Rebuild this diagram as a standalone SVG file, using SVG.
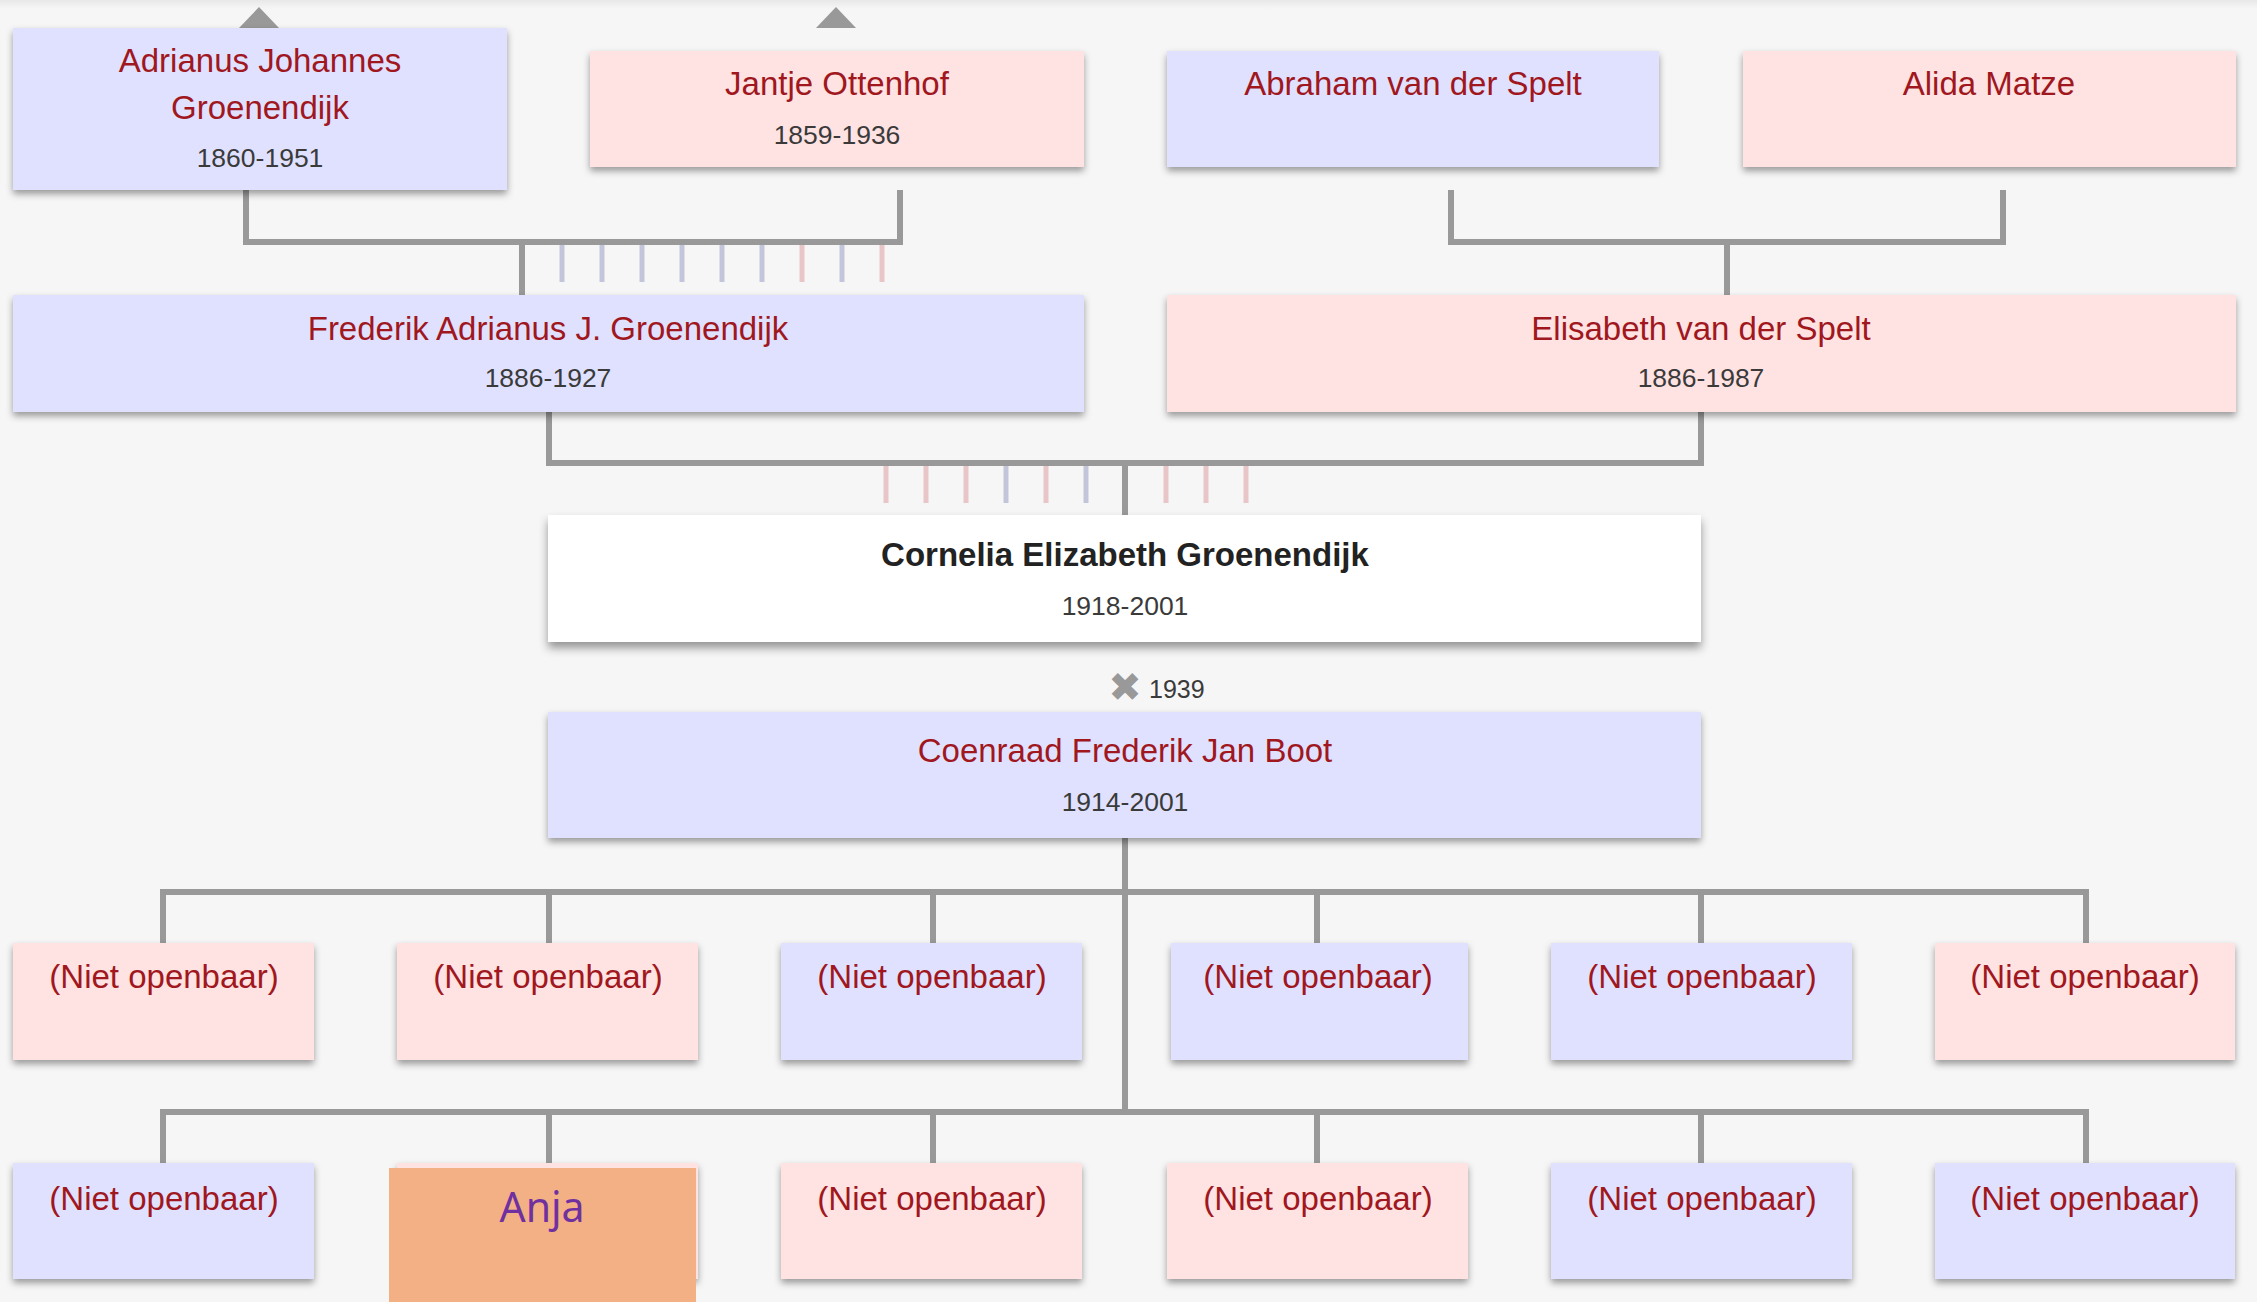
<svg xmlns="http://www.w3.org/2000/svg" width="2257" height="1302" viewBox="0 0 2257 1302">
<defs>
<style>
.name{font-family:"Liberation Sans",Arial,sans-serif;font-size:33px;fill:#a0171e;text-anchor:middle}
.date{font-family:"Liberation Sans",Arial,sans-serif;font-size:26.5px;fill:#3a3a3a;text-anchor:middle}
.root{font-family:"Liberation Sans",Arial,sans-serif;font-size:33px;font-weight:bold;fill:#222;text-anchor:middle}
.blue{fill:#dfe1fe}
.pink{fill:#ffe2e2}
.white{fill:#ffffff}
.conn{stroke:#999;stroke-width:6;fill:none;stroke-linejoin:miter}
.tb{stroke:#c3c6da;stroke-width:5}
.tp{stroke:#e8c6c8;stroke-width:5}
</style>
<filter id="sh" x="-5%" y="-20%" width="110%" height="150%">
<feDropShadow dx="0" dy="4" stdDeviation="3.5" flood-color="#000" flood-opacity="0.38"/>
</filter>
<filter id="sh2" x="-5%" y="-20%" width="110%" height="150%">
<feDropShadow dx="0" dy="6" stdDeviation="5" flood-color="#000" flood-opacity="0.4"/>
</filter>
<linearGradient id="top" x1="0" y1="0" x2="0" y2="1">
<stop offset="0" stop-color="#e8e8e8"/>
<stop offset="1" stop-color="#f6f6f6"/>
</linearGradient>
</defs>
<rect x="0" y="0" width="2257" height="1302" fill="#f6f6f6"/>
<rect x="0" y="0" width="2257" height="9" fill="url(#top)"/>

<g id="connectors">
<polygon points="239,28 259,7 279,28" fill="#999"/>
<polygon points="816,28 836,7 856,28" fill="#999"/>
<polyline class="conn" points="246,190 246,242 900,242 900,190"/>
<line class="conn" x1="522" y1="242" x2="522" y2="295"/>
<polyline class="conn" points="1451,190 1451,242 2003,242 2003,190"/>
<line class="conn" x1="1727" y1="242" x2="1727" y2="295"/>
<polyline class="conn" points="549,412 549,463 1701,463 1701,412"/>
<line class="conn" x1="1125" y1="463" x2="1125" y2="515"/>
<line class="conn" x1="1125" y1="838" x2="1125" y2="1112"/>
<polyline class="conn" points="163,943 163,892 2086,892 2086,943"/>
<line class="conn" x1="549" y1="892" x2="549" y2="943"/>
<line class="conn" x1="933" y1="892" x2="933" y2="943"/>
<line class="conn" x1="1317" y1="892" x2="1317" y2="943"/>
<line class="conn" x1="1701" y1="892" x2="1701" y2="943"/>
<polyline class="conn" points="163,1163 163,1112 2086,1112 2086,1163"/>
<line class="conn" x1="549" y1="1112" x2="549" y2="1163"/>
<line class="conn" x1="933" y1="1112" x2="933" y2="1163"/>
<line class="conn" x1="1317" y1="1112" x2="1317" y2="1163"/>
<line class="conn" x1="1701" y1="1112" x2="1701" y2="1163"/>
<g>
<line class="tb" x1="562" y1="245" x2="562" y2="282"/>
<line class="tb" x1="602" y1="245" x2="602" y2="282"/>
<line class="tb" x1="642" y1="245" x2="642" y2="282"/>
<line class="tb" x1="682" y1="245" x2="682" y2="282"/>
<line class="tb" x1="722" y1="245" x2="722" y2="282"/>
<line class="tb" x1="762" y1="245" x2="762" y2="282"/>
<line class="tp" x1="802" y1="245" x2="802" y2="282"/>
<line class="tb" x1="842" y1="245" x2="842" y2="282"/>
<line class="tp" x1="882" y1="245" x2="882" y2="282"/>
<line class="tp" x1="886" y1="466" x2="886" y2="503"/>
<line class="tp" x1="926" y1="466" x2="926" y2="503"/>
<line class="tp" x1="966" y1="466" x2="966" y2="503"/>
<line class="tb" x1="1006" y1="466" x2="1006" y2="503"/>
<line class="tp" x1="1046" y1="466" x2="1046" y2="503"/>
<line class="tb" x1="1086" y1="466" x2="1086" y2="503"/>
<line class="tp" x1="1166" y1="466" x2="1166" y2="503"/>
<line class="tp" x1="1206" y1="466" x2="1206" y2="503"/>
<line class="tp" x1="1246" y1="466" x2="1246" y2="503"/>
</g>
</g>

<g id="adrianus"><rect class="blue" x="13" y="28" width="494" height="162" filter="url(#sh)"/>
<text class="name" x="260" y="72">Adrianus Johannes</text><text class="name" x="260" y="119">Groenendijk</text><text class="date" x="260" y="167">1860-1951</text></g>
<g id="jantje"><rect class="pink" x="590" y="51" width="494" height="116" filter="url(#sh)"/>
<text class="name" x="837" y="95">Jantje Ottenhof</text><text class="date" x="837" y="144">1859-1936</text></g>
<g id="abraham"><rect class="blue" x="1167" y="51" width="492" height="116" filter="url(#sh)"/>
<text class="name" x="1413" y="95">Abraham van der Spelt</text></g>
<g id="alida"><rect class="pink" x="1743" y="51" width="493" height="116" filter="url(#sh)"/>
<text class="name" x="1989" y="95">Alida Matze</text></g>
<g id="frederik"><rect class="blue" x="13" y="295" width="1071" height="117" filter="url(#sh)"/>
<text class="name" x="548" y="340">Frederik Adrianus J. Groenendijk</text><text class="date" x="548" y="387">1886-1927</text></g>
<g id="elisabeth"><rect class="pink" x="1167" y="295" width="1069" height="117" filter="url(#sh)"/>
<text class="name" x="1701" y="340">Elisabeth van der Spelt</text><text class="date" x="1701" y="387">1886-1987</text></g>
<g id="cornelia"><rect class="white" x="548" y="515" width="1153" height="127" filter="url(#sh2)"/>
<text class="root" x="1125" y="566">Cornelia Elizabeth Groenendijk</text><text class="date" x="1125" y="615">1918-2001</text></g>
<g id="marriage"><text x="1125" y="701" font-family="DejaVu Sans,sans-serif" font-size="40" fill="#999" text-anchor="middle">✖</text>
<text x="1149" y="698" font-family="Liberation Sans,Arial,sans-serif" font-size="25" fill="#3a3a3a">1939</text></g>
<g id="coenraad"><rect class="blue" x="548" y="712" width="1153" height="126" filter="url(#sh)"/>
<text class="name" x="1125" y="762">Coenraad Frederik Jan Boot</text><text class="date" x="1125" y="811">1914-2001</text></g>

<g id="c1"><rect class="pink" x="13" y="943" width="301" height="117" filter="url(#sh)"/><text class="name" x="164" y="988">(Niet openbaar)</text></g>
<g id="c2"><rect class="pink" x="397" y="943" width="301" height="117" filter="url(#sh)"/><text class="name" x="548" y="988">(Niet openbaar)</text></g>
<g id="c3"><rect class="blue" x="781" y="943" width="301" height="117" filter="url(#sh)"/><text class="name" x="932" y="988">(Niet openbaar)</text></g>
<g id="c4"><rect class="blue" x="1171" y="943" width="297" height="117" filter="url(#sh)"/><text class="name" x="1318" y="988">(Niet openbaar)</text></g>
<g id="c5"><rect class="blue" x="1551" y="943" width="301" height="117" filter="url(#sh)"/><text class="name" x="1702" y="988">(Niet openbaar)</text></g>
<g id="c6"><rect class="pink" x="1935" y="943" width="300" height="117" filter="url(#sh)"/><text class="name" x="2085" y="988">(Niet openbaar)</text></g>
<g id="c7"><rect class="blue" x="13" y="1163" width="301" height="116" filter="url(#sh)"/><text class="name" x="164" y="1210">(Niet openbaar)</text></g>
<g id="c8"><rect class="pink" x="397" y="1163" width="301" height="116" filter="url(#sh)"/></g>
<g id="c9"><rect class="pink" x="781" y="1163" width="301" height="116" filter="url(#sh)"/><text class="name" x="932" y="1210">(Niet openbaar)</text></g>
<g id="c10"><rect class="pink" x="1167" y="1163" width="301" height="116" filter="url(#sh)"/><text class="name" x="1318" y="1210">(Niet openbaar)</text></g>
<g id="c11"><rect class="blue" x="1551" y="1163" width="301" height="116" filter="url(#sh)"/><text class="name" x="1702" y="1210">(Niet openbaar)</text></g>
<g id="c12"><rect class="blue" x="1935" y="1163" width="300" height="116" filter="url(#sh)"/><text class="name" x="2085" y="1210">(Niet openbaar)</text></g>
<g id="anja"><rect x="389" y="1168" width="307" height="134" fill="#f3b084"/>
<text x="542" y="1222" font-family="Noto Sans,Open Sans,sans-serif" font-size="41" fill="#7030a0" text-anchor="middle">Anja</text></g>
</svg>
